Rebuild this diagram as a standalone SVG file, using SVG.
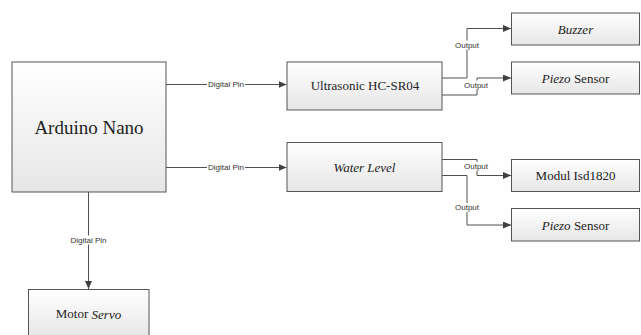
<svg xmlns="http://www.w3.org/2000/svg" width="641" height="335" viewBox="0 0 641 335">
<defs>
<linearGradient id="g" x1="0" y1="0" x2="0" y2="1">
<stop offset="0" stop-color="#ffffff"/>
<stop offset="1" stop-color="#e6e6e6"/>
</linearGradient>
<marker id="ah" markerWidth="8" markerHeight="7" refX="8" refY="3.5" orient="auto" markerUnits="userSpaceOnUse">
<path d="M0,0 L8,3.5 L0,7 Z" fill="#404040"/>
</marker>
</defs>
<style>
.box{fill:url(#g);stroke:#555;stroke-width:1}
.t{font-family:"Liberation Serif","Times New Roman",serif;font-size:13px;fill:#222;text-anchor:middle;dominant-baseline:central}
.big{font-size:19px}
.c{fill:none;stroke:#505050;stroke-width:1;marker-end:url(#ah)}
.lb{font-family:"Liberation Sans",Arial,sans-serif;font-size:8px;fill:#333;text-anchor:middle;dominant-baseline:central}
.bg{fill:#fff}
</style>
<rect width="641" height="335" fill="#fff"/>
<g id="connectors">
<path class="c" d="M166,84.5 H286.5"/>
<path class="c" d="M166,167.5 H286.5"/>
<path class="c" d="M88.5,192 V289"/>
<path class="c" d="M442,78 H467 V28.5 H511"/>
<path class="c" d="M442,95 H477 V78 H511"/>
<path class="c" d="M442,159.5 H477 V175.5 H511"/>
<path class="c" d="M442,175.5 H467 V225 H511"/>
<rect class="bg" x="207" y="80" width="38" height="9"/>
<text class="lb" x="226" y="84.5">Digital Pin</text>
<rect class="bg" x="207" y="163" width="38" height="9"/>
<text class="lb" x="226" y="167.5">Digital Pin</text>
<rect class="bg" x="69" y="235.5" width="39" height="9"/>
<text class="lb" x="88.5" y="240">Digital Pin</text>
<rect class="bg" x="454" y="40.5" width="26" height="9"/>
<text class="lb" x="467" y="45">Output</text>
<rect class="bg" x="463" y="80.5" width="26" height="9"/>
<text class="lb" x="476" y="85">Output</text>
<rect class="bg" x="463" y="162" width="26" height="9"/>
<text class="lb" x="476" y="166.5">Output</text>
<rect class="bg" x="454" y="203" width="26" height="9"/>
<text class="lb" x="467" y="207.5">Output</text>
</g>
<g id="arduino">
<rect class="box" x="12" y="62" width="154" height="130"/>
<text class="t big" x="89" y="127">Arduino Nano</text>
</g>
<g id="ultrasonic">
<rect class="box" x="287" y="62" width="155" height="48"/>
<text class="t" x="365" y="85.5">Ultrasonic HC-SR04</text>
</g>
<g id="waterlevel">
<rect class="box" x="287" y="142.5" width="155" height="49"/>
<text class="t" x="364.5" y="167" font-style="italic">Water Level</text>
</g>
<g id="buzzer">
<rect class="box" x="511.5" y="13" width="128" height="32"/>
<text class="t" x="575.5" y="29" font-style="italic">Buzzer</text>
</g>
<g id="piezo1">
<rect class="box" x="511.5" y="62" width="128" height="32"/>
<text class="t" x="575.5" y="78"><tspan font-style="italic">Piezo</tspan> Sensor</text>
</g>
<g id="modul">
<rect class="box" x="511.5" y="159.5" width="128" height="32"/>
<text class="t" x="575.5" y="175.5">Modul Isd1820</text>
</g>
<g id="piezo2">
<rect class="box" x="511.5" y="208.5" width="128" height="32.5"/>
<text class="t" x="575.5" y="225"><tspan font-style="italic">Piezo</tspan> Sensor</text>
</g>
<g id="servo">
<rect class="box" x="28.5" y="289.5" width="120.5" height="50"/>
<text class="t" x="88.5" y="313.5">Motor <tspan font-style="italic">Servo</tspan></text>
</g>
</svg>
